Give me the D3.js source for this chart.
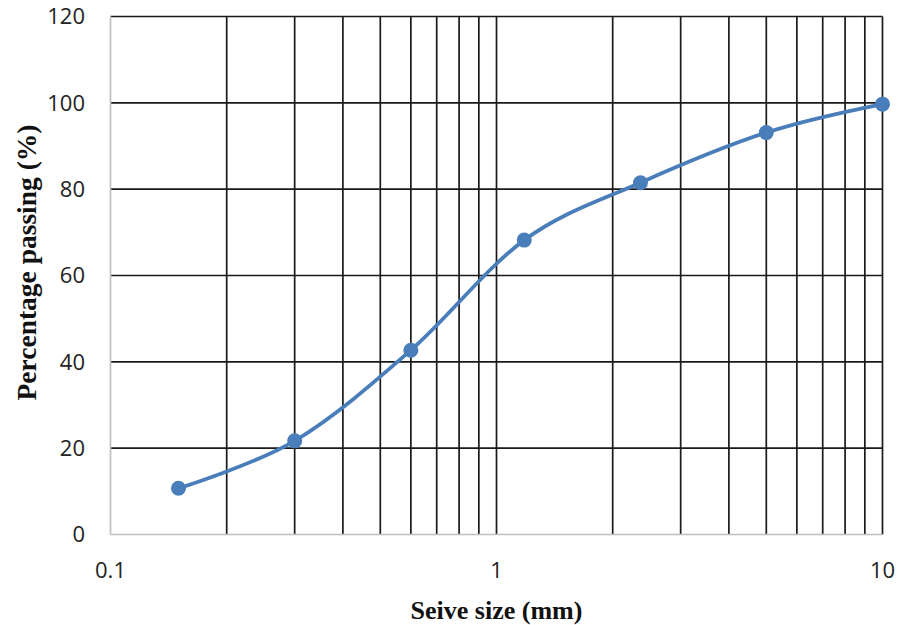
<!DOCTYPE html>
<html>
<head>
<meta charset="utf-8">
<script src="https://cdn.jsdelivr.net/npm/d3@7"></script>
<style>
  html, body { margin: 0; padding: 0; background: #fff; }
  svg { display: block; }
</style>
</head>
<body>
<svg id="chart" width="898" height="625"></svg>
<script>
// Sieve analysis: grading curve
const sieveSizes = [0.15, 0.3, 0.6, 1.18, 2.36, 5, 10];
const percentPassing = [10.7, 21.7, 42.7, 68.2, 81.5, 93.1, 99.7];
const xTickLabels = [0.1, 1, 10];
const yTickLabels = [0, 20, 40, 60, 80, 100, 120];

const m = { left: 110.5, right: 882.5, top: 16.5, bottom: 534.5 };

const svg = d3.select("#chart");

const x = d3.scaleLog().domain([0.1, 10]).range([m.left, m.right]);
const y = d3.scaleLinear().domain([0, 120]).range([m.bottom, m.top]);

// log gridlines: 2..9 in each decade, the decade line at 1 and the closing line at 10
const vLines = [];
[0.1, 1].forEach(d => { for (let k = 1; k <= 9; k++) vLines.push(d * k); });
vLines.push(10);
const vGrid = vLines.filter(v => v > 0.1 + 1e-9);

const grid = svg.append("g");
grid.selectAll("line.v").data(vGrid).join("line")
  .attr("x1", d => x(d)).attr("x2", d => x(d))
  .attr("y1", m.top).attr("y2", m.bottom)
  .attr("stroke", "#1a1a1a").attr("stroke-width", 1.7);

grid.selectAll("line.h").data(yTickLabels.filter(v => v > 0)).join("line")
  .attr("x1", m.left).attr("x2", m.right)
  .attr("y1", d => y(d)).attr("y2", d => y(d))
  .attr("stroke", "#1a1a1a").attr("stroke-width", 1.7);

// axis lines (light gray)
svg.append("line").attr("x1", m.left).attr("x2", m.left)
  .attr("y1", m.top).attr("y2", m.bottom)
  .attr("stroke", "#bfbfbf").attr("stroke-width", 1.7);
svg.append("line").attr("x1", m.left).attr("x2", m.right)
  .attr("y1", m.bottom).attr("y2", m.bottom)
  .attr("stroke", "#bfbfbf").attr("stroke-width", 1.7);

// tick labels
const tickFont = "'Open Sans', 'Liberation Sans', sans-serif";
svg.append("g").selectAll("text").data(yTickLabels).join("text")
  .attr("x", 85).attr("y", d => y(d))
  .attr("dy", "0.36em")
  .attr("text-anchor", "end")
  .attr("font-family", tickFont).attr("font-size", 22)
  .attr("fill", "#222")
  .text(d => d);

svg.append("g").selectAll("text").data(xTickLabels).join("text")
  .attr("x", d => x(d)).attr("y", 578)
  .attr("text-anchor", "middle")
  .attr("font-family", tickFont).attr("font-size", 22)
  .attr("fill", "#222")
  .text(d => d);

// axis titles
svg.append("text")
  .attr("x", (m.left + m.right) / 2).attr("y", 619)
  .attr("text-anchor", "middle")
  .attr("font-family", "'Liberation Serif', 'Times New Roman', serif")
  .attr("font-weight", "bold").attr("font-size", 26)
  .attr("fill", "#111")
  .text("Seive size (mm)");

svg.append("text")
  .attr("transform", `translate(36, 262.5) rotate(-90)`)
  .attr("text-anchor", "middle")
  .attr("font-family", "'Liberation Serif', 'Times New Roman', serif")
  .attr("font-weight", "bold").attr("font-size", 27.5)
  .attr("fill", "#111")
  .text("Percentage passing (%)");

// grading curve
const pts = sieveSizes.map((s, i) => [s, percentPassing[i]]);
const line = d3.line()
  .x(d => x(d[0])).y(d => y(d[1]))
  .curve(d3.curveCatmullRom.alpha(0));

svg.append("path").datum(pts)
  .attr("d", line)
  .attr("fill", "none")
  .attr("stroke", "#4a7ebb")
  .attr("stroke-width", 3.8)
  .attr("stroke-linejoin", "round");

svg.append("g").selectAll("circle").data(pts).join("circle")
  .attr("cx", d => x(d[0])).attr("cy", d => y(d[1]))
  .attr("r", 7.5)
  .attr("fill", "#4a7ebb");
</script>
</body>
</html>
